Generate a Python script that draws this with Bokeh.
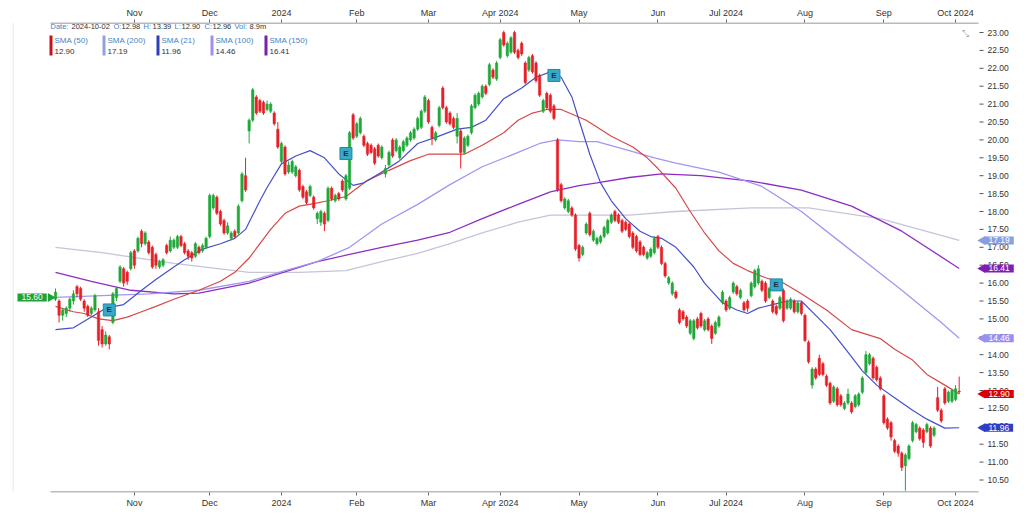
import pandas as pd
from bokeh.plotting import figure
from bokeh.models import ColumnDataSource, LinearAxis, FixedTicker, Range1d, Label
from bokeh.core.properties import value
from bokeh.embed import file_html
from bokeh.resources import INLINE

# trading days Oct 2 2023 .. Oct 2 2024
holidays = ["2023-11-23", "2023-12-25", "2024-01-01", "2024-01-15", "2024-02-19",
            "2024-03-29", "2024-05-27", "2024-06-19", "2024-07-04", "2024-09-02"]
days = pd.bdate_range("2023-10-02", "2024-10-02")
days = days[~days.isin(pd.to_datetime(holidays))]

opens = [
    15.55, 15.5, 15.1, 15.15, 15.3, 15.5, 15.9, 15.85, 15.5, 15.35, 15.15, 15.25, 15.2, 14.7, 14.3, 14.5, 14.9, 15.6, 16.05, 16.4, 16.3, 16.4,
    16.9, 16.9, 17.45, 17.1, 17.15, 17.0, 16.8, 16.45, 16.5, 17.05, 16.9, 17.0, 17.0, 17.3, 17.1, 16.9, 16.85, 16.75, 17.0, 16.9, 17.0,
    17.3, 18.1, 18.4, 18.0, 17.75, 17.4, 17.25, 17.45, 17.4, 18.3, 19.0, 20.25, 20.55, 21.2, 21.1, 21.05, 20.85, 20.8, 20.75, 20.3,
    19.4, 19.8, 19.1, 19.1, 19.0, 19.15, 18.7, 18.55, 18.45, 18.4, 17.8, 17.7, 17.95, 17.75, 18.65, 18.3, 18.5, 18.85, 18.35, 18.65, 20.7,
    20.1, 20.2, 20.1, 19.9, 19.85, 19.75, 19.85, 19.5, 19.05, 19.3, 20.0, 19.7, 19.5, 19.7, 19.85, 20.0, 20.05, 20.3, 20.35, 20.8,
    21.1, 20.35, 20.0, 20.4, 21.45, 20.9, 20.75, 20.6, 20.1, 20.25, 19.65, 19.85, 20.2, 20.9, 21.0, 21.2, 21.5, 21.55, 21.95, 21.7,
    22.3, 23.0, 22.35, 22.45, 23.0, 22.5, 22.7, 22.15, 21.95, 22.35, 22.15, 21.8, 20.8, 21.3, 21.25, 20.95, 20.0, 18.75, 18.1, 18.0, 18.1, 17.9,
    17.05, 16.8, 17.4, 17.95, 17.2, 17.1, 17.15, 17.3, 17.4, 17.7, 18.0, 17.9, 17.75, 17.7, 17.65, 17.4, 17.3, 17.15, 17.0, 16.7, 16.75, 16.85,
    17.3, 17.0, 16.55, 16.0, 15.7, 15.75, 15.25, 15.2, 15.05, 14.6, 14.45, 15.0, 15.15, 14.7, 15.0, 14.8, 14.6, 14.8, 15.45,
    15.5, 15.3, 15.75, 15.9, 15.6, 15.45, 15.5, 15.65, 15.9, 16.0, 16.05, 16.0, 15.6, 15.5, 15.35, 15.3, 15.8, 15.3, 15.3, 15.5, 15.2, 15.45,
    15.1, 14.35, 13.15, 13.6, 13.9, 13.75, 13.4, 13.2, 12.7, 13.05, 12.85, 12.5, 12.65, 12.65, 12.55, 12.6, 12.95, 13.5, 13.75, 13.9, 13.65, 13.35,
    12.85, 12.2, 12.1, 11.6, 11.45, 11.25, 10.9, 11.1, 11.6, 11.85, 11.95, 11.9, 11.85, 11.95, 11.75, 12.8, 12.45, 13.05, 12.7, 12.7,
    12.75, 12.98,
]
highs = [
    15.85, 15.55, 15.3, 15.35, 15.6, 15.8, 15.95, 15.9, 15.55, 15.4, 15.35, 15.7, 15.3, 14.8, 14.65, 14.55, 15.75, 15.9, 16.5, 16.45, 16.35, 16.9,
    16.95, 17.3, 17.5, 17.45, 17.2, 17.05, 16.85, 16.65, 16.7, 17.1, 17.3, 17.25, 17.35, 17.35, 17.15, 16.95, 16.9, 17.15, 17.05, 17.1, 17.3,
    18.5, 18.5, 18.45, 18.05, 17.8, 17.7, 17.45, 17.5, 18.2, 19.1, 19.5, 20.6, 21.45, 21.25, 21.15, 21.1, 21.1, 21.05, 20.8, 20.5,
    19.95, 19.85, 19.4, 19.45, 19.3, 19.2, 18.75, 18.6, 18.75, 18.45, 18.0, 18.05, 18.0, 18.7, 18.7, 18.5, 18.55, 18.9, 19.05, 20.25, 20.75,
    20.5, 20.65, 20.15, 19.95, 19.9, 19.8, 19.9, 19.85, 19.3, 19.7, 20.05, 20.05, 19.85, 20.0, 20.1, 20.25, 20.35, 20.65, 20.85, 21.25,
    21.15, 20.4, 20.25, 20.95, 21.5, 20.95, 20.8, 20.65, 20.75, 20.3, 20.1, 20.15, 21.0, 21.3, 21.35, 21.55, 21.55, 22.15, 22.0, 22.2,
    22.85, 23.05, 22.75, 22.9, 23.05, 22.55, 22.75, 22.2, 22.35, 22.4, 22.2, 21.85, 21.15, 21.35, 21.3, 21.0, 20.05, 18.8, 18.4, 18.35, 18.15, 17.95,
    17.1, 17.05, 17.7, 18.0, 17.5, 17.3, 17.35, 17.6, 17.8, 17.95, 18.05, 17.95, 17.8, 17.75, 17.7, 17.45, 17.35, 17.2, 17.05, 16.9, 17.0, 17.3,
    17.35, 17.05, 16.6, 16.2, 16.05, 15.8, 15.3, 15.25, 15.1, 15.0, 15.0, 15.05, 15.2, 15.0, 15.05, 14.85, 14.95, 15.1, 15.8,
    15.55, 15.65, 16.05, 15.95, 15.85, 15.5, 15.55, 16.05, 16.4, 16.5, 16.1, 16.05, 15.9, 15.55, 15.4, 15.65, 15.85, 15.55, 15.6, 15.55, 15.5, 15.5,
    15.15, 14.4, 13.65, 13.65, 14.0, 13.8, 13.45, 13.25, 13.15, 13.1, 12.9, 12.7, 13.05, 12.7, 12.9, 12.95, 13.4, 14.1, 14.05, 13.95, 13.7, 13.4,
    12.9, 12.25, 12.15, 11.65, 11.5, 11.3, 11.25, 11.5, 12.15, 12.1, 12.0, 11.95, 12.1, 12.0, 12.0, 13.1, 12.5, 13.1, 13.0, 13.05,
    13.15, 13.39,
]
lows = [
    15.5, 14.9, 14.95, 15.05, 15.2, 15.4, 15.6, 15.5, 15.2, 15.05, 15.1, 15.2, 14.25, 14.2, 14.25, 14.15, 14.85, 15.5, 16.0, 15.9, 15.95, 16.35,
    16.4, 16.85, 17.0, 17.05, 16.8, 16.4, 16.4, 16.4, 16.45, 16.8, 16.85, 16.95, 16.95, 17.0, 16.8, 16.65, 16.6, 16.7, 16.8, 16.85, 16.95,
    17.25, 18.05, 17.9, 17.6, 17.35, 17.35, 17.2, 17.25, 17.35, 18.25, 18.55, 19.9, 20.5, 20.7, 20.75, 20.7, 20.8, 20.75, 20.4, 19.75,
    19.35, 19.0, 19.05, 19.05, 18.95, 18.55, 18.35, 18.2, 18.4, 18.05, 17.65, 17.6, 17.45, 17.7, 18.3, 18.25, 18.3, 18.55, 18.3, 18.6, 20.0,
    20.05, 20.15, 19.8, 19.55, 19.6, 19.3, 19.5, 19.45, 18.95, 19.25, 19.5, 19.65, 19.45, 19.65, 19.8, 19.95, 20.0, 20.25, 20.3, 20.75,
    20.45, 19.85, 19.95, 20.35, 20.85, 20.45, 20.4, 20.3, 19.9, 19.2, 19.6, 19.8, 20.15, 20.85, 20.95, 21.15, 21.25, 21.5, 21.7, 21.65,
    22.25, 22.6, 22.3, 22.4, 22.4, 22.25, 22.35, 21.55, 21.9, 21.85, 21.6, 21.2, 20.75, 20.85, 20.75, 20.55, 18.55, 18.25, 18.05, 17.95, 17.85, 16.9,
    16.6, 16.75, 17.35, 17.3, 17.15, 17.05, 17.1, 17.25, 17.35, 17.65, 17.7, 17.65, 17.4, 17.45, 17.25, 16.95, 16.85, 16.75, 16.75, 16.65, 16.7, 16.8,
    16.95, 16.5, 16.15, 15.95, 15.65, 15.55, 14.85, 14.95, 14.75, 14.55, 14.4, 14.7, 14.75, 14.65, 14.65, 14.3, 14.55, 14.75, 15.4,
    15.2, 15.25, 15.7, 15.65, 15.55, 15.2, 15.2, 15.6, 15.85, 15.95, 15.75, 15.45, 15.55, 15.15, 15.1, 15.25, 14.9, 15.25, 15.25, 15.15, 15.15, 15.1,
    14.35, 13.75, 13.05, 13.3, 13.4, 13.4, 13.1, 12.6, 12.65, 12.55, 12.55, 12.45, 12.6, 12.35, 12.5, 12.55, 12.9, 13.45, 13.7, 13.3, 13.25, 13.0,
    12.05, 11.9, 11.6, 11.25, 11.15, 10.75, 10.2, 11.05, 11.55, 11.8, 11.6, 11.4, 11.8, 11.4, 11.7, 12.4, 12.1, 12.6, 12.65, 12.65,
    12.7, 12.90,
]
closes = [
    15.75, 15.1, 15.25, 15.3, 15.55, 15.7, 15.7, 15.55, 15.3, 15.1, 15.3, 15.65, 14.4, 14.3, 14.55, 14.3, 15.7, 15.85, 16.45, 16.0, 16.05, 16.85,
    16.5, 17.25, 17.1, 17.4, 16.85, 16.45, 16.5, 16.6, 16.65, 16.85, 17.2, 17.2, 17.3, 17.05, 16.85, 16.75, 16.7, 17.1, 16.85, 17.05, 17.25,
    18.45, 18.45, 17.95, 17.65, 17.4, 17.6, 17.4, 17.3, 18.15, 19.05, 18.6, 20.55, 21.4, 20.75, 20.8, 20.75, 21.0, 21.0, 20.45, 19.8,
    19.9, 19.05, 19.3, 19.4, 19.25, 18.6, 18.4, 18.25, 18.7, 18.1, 17.95, 18.0, 17.65, 18.65, 18.35, 18.45, 18.35, 18.6, 19.0, 20.2, 20.05,
    20.45, 20.6, 19.85, 19.6, 19.65, 19.35, 19.55, 19.8, 19.2, 19.65, 19.55, 20.0, 19.8, 19.95, 20.05, 20.2, 20.3, 20.6, 20.8, 21.2,
    20.5, 20.05, 20.2, 20.9, 20.9, 20.5, 20.45, 20.35, 20.6, 19.65, 20.05, 20.1, 20.95, 21.25, 21.3, 21.5, 21.3, 22.1, 21.75, 22.15,
    22.8, 22.65, 22.7, 22.85, 22.45, 22.3, 22.4, 21.6, 22.3, 21.9, 21.65, 21.25, 21.1, 20.9, 20.8, 20.6, 18.6, 18.3, 18.35, 18.3, 17.9, 16.95,
    16.7, 17.0, 17.65, 17.35, 17.45, 17.25, 17.3, 17.55, 17.75, 17.9, 17.75, 17.7, 17.45, 17.5, 17.3, 17.0, 16.9, 16.8, 16.8, 16.85, 16.95, 17.25,
    17.0, 16.55, 16.2, 16.15, 16.0, 15.6, 14.9, 15.0, 14.8, 14.95, 14.95, 14.75, 14.8, 14.95, 14.7, 14.45, 14.9, 15.05, 15.75,
    15.25, 15.6, 16.0, 15.7, 15.8, 15.25, 15.3, 16.0, 16.35, 16.4, 15.8, 15.5, 15.85, 15.2, 15.15, 15.6, 14.95, 15.5, 15.55, 15.2, 15.45, 15.15,
    14.4, 13.8, 13.6, 13.35, 13.45, 13.45, 13.15, 12.65, 13.1, 12.6, 12.6, 12.65, 12.9, 12.4, 12.85, 12.9, 13.35, 14.0, 14.0, 13.35, 13.3, 13.05,
    12.1, 11.95, 11.7, 11.3, 11.25, 10.85, 11.2, 11.45, 12.1, 12.05, 11.65, 11.55, 12.05, 11.45, 11.95, 12.45, 12.15, 12.65, 12.95, 13.0,
    13.05, 12.96,
]
last_vol = "8.9m"

# moving averages (trading-day index, value)
sma21_x = [0, 5, 10, 14, 19, 24, 28, 33, 36, 41, 46, 50, 53, 55, 57, 59, 63, 67, 71, 75, 79, 83, 86, 91, 96, 101, 106,
           112, 116, 120, 125, 130, 134, 138, 141, 144, 146, 149, 152, 155, 159, 163, 166, 169, 173, 178, 181, 186, 190,
           193, 196, 200, 204, 208, 212, 216, 220, 225, 229, 234, 239, 243, 248, 252]
sma21_y = [14.7, 14.75, 15.05, 15.3, 15.4, 15.8, 16.1, 16.45, 16.65, 16.95, 17.1, 17.25, 17.5, 17.9, 18.3, 18.67, 19.33,
           19.55, 19.7, 19.5, 19.05, 18.73, 18.8, 19.1, 19.42, 19.9, 20.07, 20.3, 20.35, 20.55, 21.15, 21.45, 21.75, 21.9,
           21.75, 21.2, 20.55, 19.6, 18.8, 18.3, 17.8, 17.45, 17.3, 17.25, 17.0, 16.45, 16.0, 15.45, 15.25, 15.15, 15.3,
           15.4, 15.5, 15.5, 15.1, 14.7, 14.2, 13.55, 13.15, 12.8, 12.45, 12.2, 11.95, 11.96]
sma50_x = [0, 5, 8, 12, 16, 20, 24, 28, 33, 40, 46, 50, 54, 57, 60, 64, 68, 72, 76, 81, 87, 93, 99, 104, 110, 114, 119,
           125, 129, 133, 137, 141, 148, 155, 161, 165, 168, 173, 177, 181, 185, 189, 193, 198, 203, 208, 215, 222, 230,
           234, 239, 243, 248, 252]
sma50_y = [15.35, 15.2, 15.15, 15.0, 14.95, 15.05, 15.2, 15.35, 15.55, 15.8, 16.05, 16.3, 16.7, 17.1, 17.5, 17.95, 18.15,
           18.22, 18.3, 18.42, 18.87, 19.15, 19.42, 19.6, 19.6, 19.6, 19.85, 20.2, 20.55, 20.75, 20.85, 20.85, 20.55, 20.1,
           19.8, 19.5, 19.2, 18.65, 18.0, 17.4, 16.9, 16.55, 16.35, 16.15, 16.0, 15.7, 15.25, 14.7, 14.45, 14.15, 13.85,
           13.45, 13.15, 12.9]
sma100_x = [0, 13, 26, 40, 54, 64, 73, 82, 91, 101, 110, 119, 129, 135, 140, 146, 151, 160, 167, 173, 185, 197, 208, 222,
            236, 247, 252]
sma100_y = [15.6, 15.65, 15.7, 15.8, 16.05, 16.35, 16.6, 17.0, 17.65, 18.2, 18.75, 19.25, 19.65, 19.9, 20.0, 19.95, 19.95,
            19.7, 19.5, 19.35, 19.1, 18.7, 18.0, 16.9, 15.8, 14.9, 14.46]
sma150_x = [0, 10, 21, 33, 40, 54, 73, 82, 91, 101, 110, 119, 129, 138, 146, 151, 160, 169, 180, 194, 208, 222, 236, 252]
sma150_y = [16.3, 16.05, 15.8, 15.7, 15.72, 16.0, 16.6, 16.8, 17.0, 17.2, 17.42, 17.8, 18.2, 18.55, 18.72, 18.8, 18.95,
            19.05, 19.0, 18.85, 18.6, 18.15, 17.45, 16.41]
sma200_x = [0, 13, 33, 54, 68, 81, 91, 101, 110, 119, 129, 138, 146, 160, 173, 194, 210, 230, 252]
sma200_y = [17.0, 16.85, 16.55, 16.3, 16.3, 16.35, 16.6, 16.83, 17.1, 17.4, 17.7, 17.9, 17.9, 17.9, 18.0, 18.1, 18.1,
            17.8, 17.19]

earn_x = [15, 81, 139, 201]
earn_y = [15.25, 19.62, 21.8, 15.95]
start_ref = 15.60

month_labels = ["Nov", "Dec", "2024", "Feb", "Mar", "Apr 2024", "May", "Jun", "Jul 2024", "Aug", "Sep", "Oct 2024"]
price_ticks = [10.5, 11.0, 11.5, 12.0, 12.5, 13.0, 13.5, 14.0, 14.5, 15.0, 15.5, 16.0, 16.5,
               17.0, 17.5, 18.0, 18.5, 19.0, 19.5, 20.0, 20.5, 21.0, 21.5, 22.0, 22.5, 23.0]

n = len(closes)
idx = list(range(n))
month_ticks = [i for i in range(1, n) if days[i].month != days[i - 1].month]

UP, DOWN = "#20a83a", "#e42128"
FONT = "Liberation Sans"
TXT = "#333333"


def dx(px):  # page pixel -> trading index
    return (px - 55) / 3.586


def dy(py):  # page pixel -> price
    return 23 - (py - 32) / 35.8


# frame spans page x 12..1020, y 22..492
p = figure(width=1020, height=512, x_range=Range1d(dx(12), dx(1020)), y_range=Range1d(dy(492), dy(22)),
           output_backend="svg", toolbar_location=None, x_axis_location=None, y_axis_location=None,
           min_border_left=12, min_border_right=0, min_border_top=22, min_border_bottom=20)
p.xgrid.visible = False
p.ygrid.visible = False
p.outline_line_color = None
p.background_fill_color = "white"
p.border_fill_color = "white"

overrides = {t: lab for t, lab in zip(month_ticks, month_labels)}
for loc in ["above", "below"]:
    ax = LinearAxis(ticker=FixedTicker(ticks=month_ticks), major_label_overrides=overrides)
    ax.major_label_text_font = FONT
    ax.major_label_text_font_size = "9px"
    ax.major_label_text_color = TXT
    ax.axis_line_color = None
    ax.major_tick_line_color = "#666666"
    ax.major_tick_in = 0
    ax.major_tick_out = 3
    ax.minor_tick_line_color = None
    ax.major_label_standoff = 2
    p.add_layout(ax, loc)

# axis lines (stop before the price scale) and the left border
p.segment(x0=[dx(50), dx(50)], y0=[dy(22.5), dy(491.5)], x1=[dx(978), dx(978)], y1=[dy(22.5), dy(491.5)],
          line_color="#777777", line_width=1)
p.segment(x0=[dx(12.5)], y0=[dy(22)], x1=[dx(12.5)], y1=[dy(492)], line_color="#e2e2e2", line_width=1)

# price scale on the right
p.segment(x0=[dx(979)] * len(price_ticks), y0=price_ticks, x1=[dx(983)] * len(price_ticks), y1=price_ticks,
          line_color="#555555", line_width=1)
p.text(x=[dx(987)] * len(price_ticks), y=price_ticks, text=[f"{v:.2f}" for v in price_ticks],
       text_font=value(FONT), text_font_size="8.5px", text_color=TXT, text_baseline="middle", text_align="left")

# moving averages
p.line(sma200_x, sma200_y, line_color="#c6c4d8", line_width=1.3)
p.line(sma150_x, sma150_y, line_color="#8e2cc4", line_width=1.3)
p.line(sma100_x, sma100_y, line_color="#a396f0", line_width=1.3)
p.line(sma50_x, sma50_y, line_color="#d84848", line_width=1.2)
p.line(sma21_x, sma21_y, line_color="#4450cc", line_width=1.2)

# candles
cols = [UP if c >= o else DOWN for o, c in zip(opens, closes)]
src = ColumnDataSource(dict(
    i=idx, o=opens, h=highs, l=lows, c=closes, col=cols,
    top=[max(o, c) for o, c in zip(opens, closes)],
    bot=[min(o, c) for o, c in zip(opens, closes)],
))
p.segment(x0="i", y0="l", x1="i", y1="h", line_color="col", line_width=1, source=src)
p.vbar(x="i", width=0.68, top="top", bottom="bot", fill_color="col", line_color="col", line_width=0.5, source=src)

# earnings markers
p.scatter(earn_x, earn_y, marker="square", size=12, fill_color="#38a8c6", line_color="#2388a8")
p.text(earn_x, earn_y, text=["E"] * len(earn_x), text_font=value(FONT), text_font_size="8px",
       text_font_style="bold", text_color="#12324a", text_align="center", text_baseline="middle")

# header line
hdr_blue = "#4a7fc0"
hdr = [(50, "Date:", hdr_blue), (71, days[-1].strftime("%Y-%m-%d"), TXT),
       (113, "O:", hdr_blue), (121, f"{opens[-1]:.2f}", TXT),
       (143, "H:", hdr_blue), (152, f"{highs[-1]:.2f}", TXT),
       (174, "L:", hdr_blue), (181, f"{lows[-1]:.2f}", TXT),
       (204, "C:", hdr_blue), (212, f"{closes[-1]:.2f}", TXT),
       (234, "Vol:", hdr_blue), (249, last_vol, TXT)]
for px, t, col in hdr:
    p.add_layout(Label(x=dx(px), y=dy(26), text=t, text_color=col, text_font=FONT, text_font_size="7.5px",
                       text_baseline="middle", text_align="left"))

# SMA legend
leg = [("SMA (50)", sma50_y[-1], "#c8101e"), ("SMA (200)", sma200_y[-1], "#8fa3d9"),
       ("SMA (21)", sma21_y[-1], "#2e3db8"), ("SMA (100)", sma100_y[-1], "#9d90f0"),
       ("SMA (150)", sma150_y[-1], "#7a1fa8")]
leg_px = [49, 102, 156, 210, 264]
for (name, last, col), px in zip(leg, leg_px):
    p.quad(left=dx(px), right=dx(px + 3), top=dy(35), bottom=dy(55), fill_color=col, line_color=None)
    p.add_layout(Label(x=dx(px + 5), y=dy(39.5), text=name, text_color=hdr_blue, text_font=FONT,
                       text_font_size="8px", text_baseline="middle"))
    p.add_layout(Label(x=dx(px + 5), y=dy(51), text=f"{last:.2f}", text_color=TXT, text_font=FONT,
                       text_font_size="8px", text_baseline="middle"))

# last-value tags on the price scale
tags = [(sma200_y[-1], "#8a9ee0"), (sma150_y[-1], "#7f1fb0"), (sma100_y[-1], "#9b8ef0"),
        (sma50_y[-1], "#d80000"), (sma21_y[-1], "#2f3ec4")]
pad = dict(left=4, right=4, top=1, bottom=1)
for v, col in tags:
    p.scatter([dx(982)], [v], marker="triangle", angle=1.5708, size=9, fill_color=col, line_color=None)
    p.add_layout(Label(x=dx(984), y=v, text=f"{v:.2f}", text_color="white", text_font=FONT,
                       text_font_size="8.5px", text_baseline="middle", text_align="left",
                       background_fill_color=col, padding=pad))
p.scatter([dx(50)], [start_ref], marker="triangle", angle=-1.5708, size=9, fill_color="#1ba33a", line_color=None)
p.add_layout(Label(x=dx(17), y=start_ref, text=f"{start_ref:.2f}", text_color="white", text_font=FONT,
                   text_font_size="8.5px", text_baseline="middle", text_align="left",
                   background_fill_color="#1ba33a", padding=pad))

# collapse icon
p.add_layout(Label(x=dx(965), y=dy(33), text="⤡", text_color="#aaaaaa", text_font="DejaVu Sans",
                   text_font_size="9px", text_baseline="middle", text_align="center"))

open("out.html", "w").write(file_html(p, INLINE))
